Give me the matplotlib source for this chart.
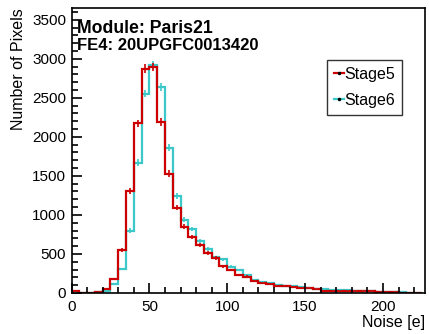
import numpy as np
import matplotlib
matplotlib.use("Agg")
import matplotlib.pyplot as plt
from matplotlib.lines import Line2D
from matplotlib.ticker import MultipleLocator

# noise histogram, 5 e bins from 0 to 225
edges = np.arange(0, 230, 5)
stage5 = [30, 0, 3, 10, 50, 175, 550, 1310, 2175, 2875, 2895, 2190, 1530,
          1090, 850, 722, 610, 509, 450, 340, 295, 233, 210, 152, 122, 112,
          95, 88, 80, 70, 60, 50, 30, 28, 25, 25, 22, 20, 20, 18, 15, 12,
          5, 3, 2]
stage6 = [8, 0, 2, 8, 20, 115, 307, 800, 1670, 2555, 2920, 2640, 1860,
          1240, 940, 817, 662, 560, 457, 430, 335, 295, 225, 170, 140, 122,
          99, 92, 85, 75, 68, 55, 45, 40, 35, 32, 28, 25, 20, 18, 15, 12,
          8, 5, 3]

red = "#cc0000"
cyan = "#3cc8c8"

plt.rcParams["font.family"] = ["Liberation Sans", "DejaVu Sans"]

fig = plt.figure(figsize=(4.29, 3.34), dpi=100)
ax = fig.add_axes([0.1667, 0.1228, 0.8240, 0.8532])

centers = (edges[:-1] + edges[1:]) / 2
for vals, col in [(stage6, cyan), (stage5, red)]:
    v = np.array(vals, dtype=float)
    ax.stairs(v, edges, color=col, lw=1.6, baseline=None)
    ax.errorbar(centers, v, yerr=np.sqrt(v), xerr=1.0, fmt="none",
                ecolor=col, elinewidth=1.2, capsize=0)

ax.set_xlim(0, 227)
ax.set_ylim(0, 3650)
ax.xaxis.set_major_locator(MultipleLocator(50))
ax.xaxis.set_minor_locator(MultipleLocator(10))
ax.yaxis.set_major_locator(MultipleLocator(500))
ax.yaxis.set_minor_locator(MultipleLocator(100))
ax.tick_params(which="both", direction="in", top=False, right=False,
               labelsize=11, width=1.2)
ax.tick_params(which="major", length=7)
ax.tick_params(which="minor", length=4)
ax.tick_params(axis="x", pad=5)
ax.tick_params(axis="y", pad=4)
for s in ax.spines.values():
    s.set_linewidth(1.2)

ax.set_xlabel("Noise [e]", fontsize=11.5, loc="right", labelpad=1)
ax.set_ylabel("Number of Pixels", fontsize=11.5, loc="top", labelpad=4)

ax.text(0.015, 0.928, "Module: Paris21", transform=ax.transAxes,
        fontsize=12.7, fontweight="bold", va="center")
ax.text(0.015, 0.868, "FE4: 20UPGFC0013420", transform=ax.transAxes,
        fontsize=12, fontweight="bold", va="center")

handles = [Line2D([0], [0], color=red, lw=1.6, marker="o", ms=1.5,
                  mfc="black", mec="black"),
           Line2D([0], [0], color=cyan, lw=1.6, marker="o", ms=1.5,
                  mfc="black", mec="black")]
leg = ax.legend(handles, ["Stage5", "Stage6"], loc="upper right",
                bbox_to_anchor=(0.935, 0.818), fontsize=11.5, frameon=True,
                fancybox=False, handlelength=0.6, handletextpad=0.05,
                borderpad=0.42, labelspacing=0.72, borderaxespad=0)
leg.get_frame().set_edgecolor("black")
leg.get_frame().set_linewidth(1.0)

fig.savefig("out.png", dpi=100)
